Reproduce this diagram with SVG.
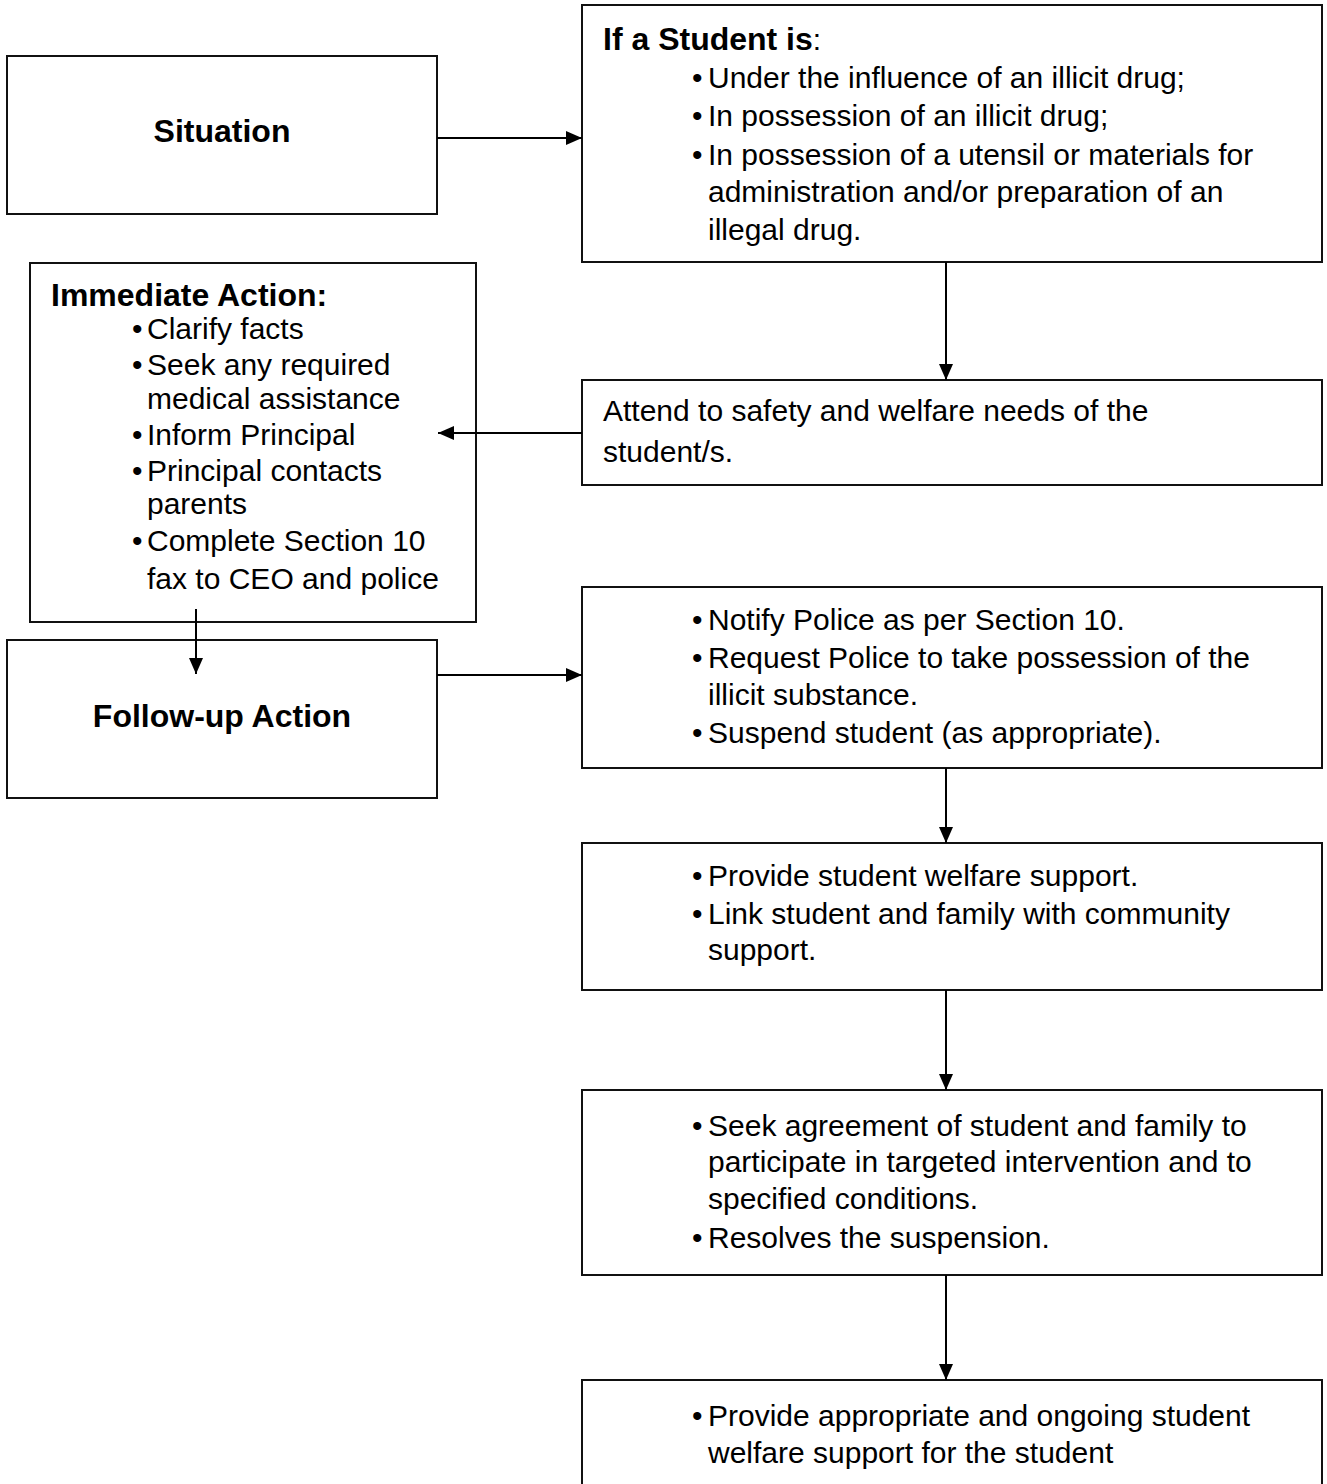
<svg xmlns="http://www.w3.org/2000/svg" width="1327" height="1484" viewBox="0 0 1327 1484">
<style>
.box{fill:#fff;stroke:#111;stroke-width:2}
.t{font-family:"Liberation Sans",Arial,sans-serif;font-size:30px;fill:#000}
.b{font-weight:bold;font-size:32px}
.c{stroke:#000;stroke-width:2;fill:none}
</style>
<defs>
<marker id="ah" markerUnits="userSpaceOnUse" markerWidth="17" markerHeight="14" refX="16" refY="7" orient="auto">
<path d="M0,0 L16,7 L0,14 Z" fill="#000"/>
</marker>
</defs>
<rect width="1327" height="1484" fill="#fff"/>
<g id="situation">
<rect class="box" x="7" y="56" width="430" height="158"/>
<text class="t b" x="222" y="142" text-anchor="middle">Situation</text>
</g>
<g id="student">
<rect class="box" x="582" y="5" width="740" height="257"/>
<text class="t" x="603" y="50"><tspan class="b">If a Student is</tspan>:</text>
<text class="t" x="692" y="88">•</text><text class="t" x="708" y="88">Under the influence of an illicit drug;</text>
<text class="t" x="692" y="126">•</text><text class="t" x="708" y="126">In possession of an illicit drug;</text>
<text class="t" x="692" y="165">•</text><text class="t" x="708" y="165">In possession of a utensil or materials for</text>
<text class="t" x="708" y="202">administration and/or preparation of an</text>
<text class="t" x="708" y="240">illegal drug.</text>
</g>
<g id="attend">
<rect class="box" x="582" y="380" width="740" height="105"/>
<text class="t" x="603" y="421">Attend to safety and welfare needs of the</text>
<text class="t" x="603" y="462">student/s.</text>
</g>
<g id="immediate">
<rect class="box" x="30" y="263" width="446" height="359"/>
<text class="t b" x="51" y="306">Immediate Action:</text>
<text class="t" x="132" y="339">•</text><text class="t" x="147" y="339">Clarify facts</text>
<text class="t" x="132" y="375">•</text><text class="t" x="147" y="375">Seek any required</text>
<text class="t" x="147" y="409">medical assistance</text>
<text class="t" x="132" y="445">•</text><text class="t" x="147" y="445">Inform Principal</text>
<text class="t" x="132" y="481">•</text><text class="t" x="147" y="481">Principal contacts</text>
<text class="t" x="147" y="514">parents</text>
<text class="t" x="132" y="551">•</text><text class="t" x="147" y="551">Complete Section 10</text>
<text class="t" x="147" y="589">fax to CEO and police</text>
</g>
<g id="followup">
<rect class="box" x="7" y="640" width="430" height="158"/>
<text class="t b" x="222" y="727" text-anchor="middle">Follow-up Action</text>
</g>
<g id="notify">
<rect class="box" x="582" y="587" width="740" height="181"/>
<text class="t" x="692" y="630">•</text><text class="t" x="708" y="630">Notify Police as per Section 10.</text>
<text class="t" x="692" y="668">•</text><text class="t" x="708" y="668">Request Police to take possession of the</text>
<text class="t" x="708" y="705">illicit substance.</text>
<text class="t" x="692" y="743">•</text><text class="t" x="708" y="743">Suspend student (as appropriate).</text>
</g>
<g id="provide">
<rect class="box" x="582" y="843" width="740" height="147"/>
<text class="t" x="692" y="886">•</text><text class="t" x="708" y="886">Provide student welfare support.</text>
<text class="t" x="692" y="924">•</text><text class="t" x="708" y="924">Link student and family with community</text>
<text class="t" x="708" y="960">support.</text>
</g>
<g id="seek">
<rect class="box" x="582" y="1090" width="740" height="185"/>
<text class="t" x="692" y="1136">•</text><text class="t" x="708" y="1136">Seek agreement of student and family to</text>
<text class="t" x="708" y="1172">participate in targeted intervention and to</text>
<text class="t" x="708" y="1209">specified conditions.</text>
<text class="t" x="692" y="1248">•</text><text class="t" x="708" y="1248">Resolves the suspension.</text>
</g>
<g id="ongoing">
<rect class="box" x="582" y="1380" width="740" height="130"/>
<text class="t" x="692" y="1426">•</text><text class="t" x="708" y="1426">Provide appropriate and ongoing student</text>
<text class="t" x="708" y="1463">welfare support for the student</text>
</g>
<g id="connectors">
<line class="c" x1="437" y1="138" x2="582" y2="138" marker-end="url(#ah)"/>
<line class="c" x1="946" y1="262" x2="946" y2="380" marker-end="url(#ah)"/>
<line class="c" x1="582" y1="433" x2="438" y2="433" marker-end="url(#ah)"/>
<line class="c" x1="196" y1="609" x2="196" y2="674" marker-end="url(#ah)"/>
<line class="c" x1="437" y1="675" x2="582" y2="675" marker-end="url(#ah)"/>
<line class="c" x1="946" y1="768" x2="946" y2="843" marker-end="url(#ah)"/>
<line class="c" x1="946" y1="990" x2="946" y2="1090" marker-end="url(#ah)"/>
<line class="c" x1="946" y1="1275" x2="946" y2="1380" marker-end="url(#ah)"/>
</g>
</svg>
